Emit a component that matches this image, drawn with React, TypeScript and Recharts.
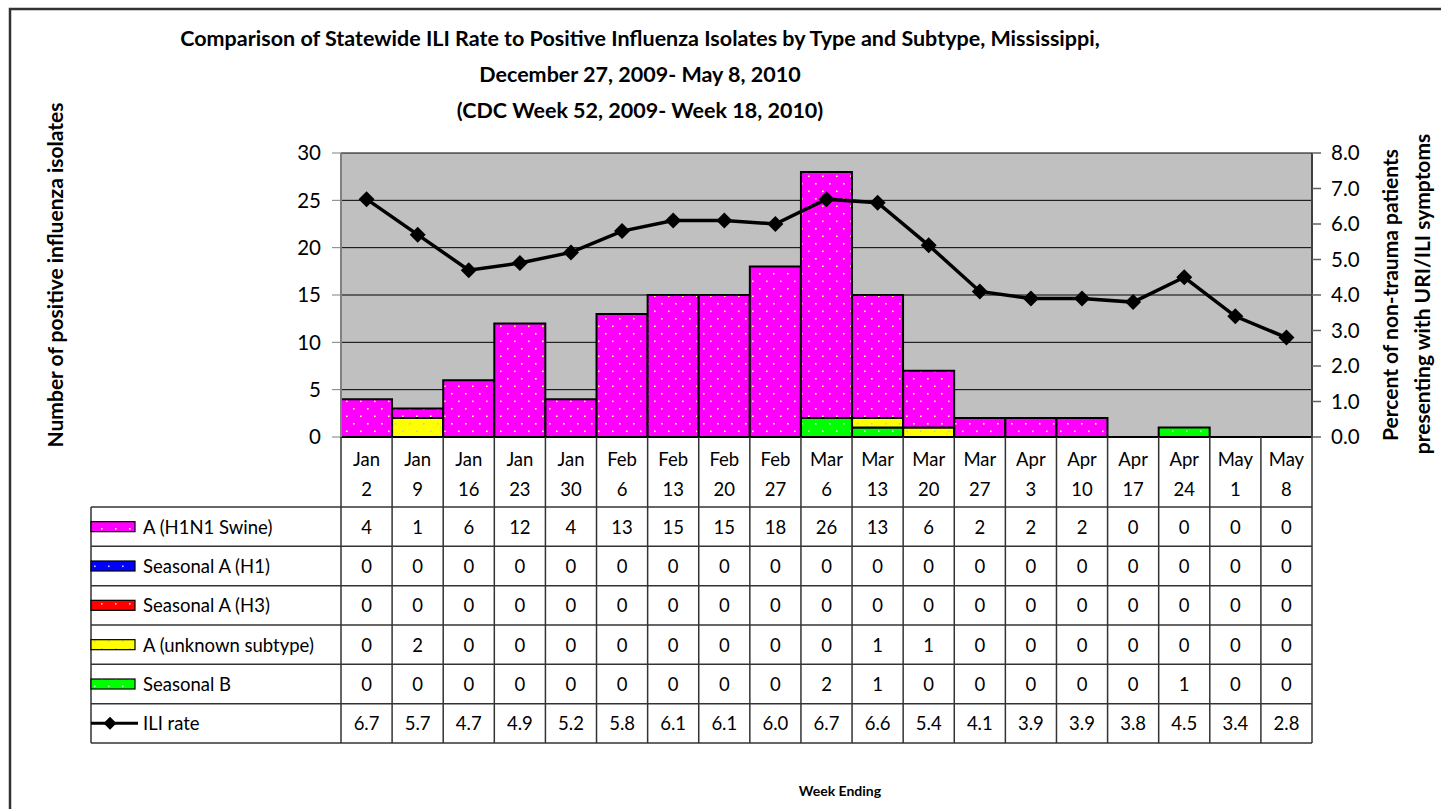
import React from 'react';
import { ComposedChart, Bar, Line, XAxis, YAxis, CartesianGrid } from 'recharts';

const WEEKS = ['Jan 2', 'Jan 9', 'Jan 16', 'Jan 23', 'Jan 30', 'Feb 6', 'Feb 13', 'Feb 20', 'Feb 27', 'Mar 6',
  'Mar 13', 'Mar 20', 'Mar 27', 'Apr 3', 'Apr 10', 'Apr 17', 'Apr 24', 'May 1', 'May 8'];
const SWINE = [4, 1, 6, 12, 4, 13, 15, 15, 18, 26, 13, 6, 2, 2, 2, 0, 0, 0, 0];
const SEASONAL_H1 = [0, 0, 0, 0, 0, 0, 0, 0, 0, 0, 0, 0, 0, 0, 0, 0, 0, 0, 0];
const SEASONAL_H3 = [0, 0, 0, 0, 0, 0, 0, 0, 0, 0, 0, 0, 0, 0, 0, 0, 0, 0, 0];
const UNKNOWN = [0, 2, 0, 0, 0, 0, 0, 0, 0, 0, 1, 1, 0, 0, 0, 0, 0, 0, 0];
const SEASONAL_B = [0, 0, 0, 0, 0, 0, 0, 0, 0, 2, 1, 0, 0, 0, 0, 0, 1, 0, 0];
const ILI_RATE = [6.7, 5.7, 4.7, 4.9, 5.2, 5.8, 6.1, 6.1, 6.0, 6.7, 6.6, 5.4, 4.1, 3.9, 3.9, 3.8, 4.5, 3.4, 2.8];
const COUNT_TICKS = [0, 5, 10, 15, 20, 25, 30];
const RATE_TICKS = [0, 1, 2, 3, 4, 5, 6, 7, 8];

// bar series in table order (top row first)
const SERIES = [
  { key: 'swine', name: 'A (H1N1 Swine)', color: '#ff00ff', dot: '#ffff99', values: SWINE },
  { key: 'h1', name: 'Seasonal A (H1)', color: '#0000ff', dot: '#ccccff', values: SEASONAL_H1 },
  { key: 'h3', name: 'Seasonal A (H3)', color: '#ff0000', dot: '#ffcccc', values: SEASONAL_H3 },
  { key: 'unknown', name: 'A (unknown subtype)', color: '#ffff00', dot: '#cccc99', values: UNKNOWN },
  { key: 'b', name: 'Seasonal B', color: '#00ff00', dot: '#ccffcc', values: SEASONAL_B },
];

const data = WEEKS.map((week, i) => ({
  week,
  swine: SWINE[i],
  h1: SEASONAL_H1[i],
  h3: SEASONAL_H3[i],
  unknown: UNKNOWN[i],
  b: SEASONAL_B[i],
  ili: ILI_RATE[i],
}));

// layout
const W = 1441;
const H = 809;
const PLOT_LEFT = 341;
const PLOT_RIGHT = 1312;
const PLOT_TOP = 153;
const PLOT_BOTTOM = 437;
const TABLE_BOTTOM = 743;
const HEADER_BOTTOM = 507;
const ROW_H = (TABLE_BOTTOM - HEADER_BOTTOM) / 6;
const LEGEND_LEFT = 91;
const COL_W = (PLOT_RIGHT - PLOT_LEFT) / WEEKS.length;
const AXIS_W = 60;
const FONT = 'Lato, "Open Sans", sans-serif';
const TABLE_FS = 18.5;

const rowCenter = (i: number) => HEADER_BOTTOM + ROW_H * i + ROW_H / 2;
const diamond = (cx: number, cy: number, r: number) =>
  `M${cx},${cy - r}L${cx + r},${cy}L${cx},${cy + r}L${cx - r},${cy}Z`;

const LegendColumn = () => (
  <g>
    {[0, 1, 2, 3, 4, 5, 6].map((i) => (
      <line key={`h${i}`} x1={LEGEND_LEFT} x2={PLOT_RIGHT} y1={HEADER_BOTTOM + ROW_H * i} y2={HEADER_BOTTOM + ROW_H * i}
        stroke="#333" strokeWidth={1.5} />
    ))}
    <line x1={LEGEND_LEFT} x2={LEGEND_LEFT} y1={HEADER_BOTTOM} y2={TABLE_BOTTOM} stroke="#333" strokeWidth={1.5} />
    {SERIES.map((s, i) => (
      <g key={s.key}>
        <rect x={LEGEND_LEFT} y={rowCenter(i) - 5} width={44} height={10} fill={`url(#pat-${s.key})`}
          stroke="#000" strokeWidth={1.2} />
        <text x={143} y={rowCenter(i)} dominantBaseline="central" fontSize={TABLE_FS} fill="#000">{s.name}</text>
      </g>
    ))}
    <line x1={LEGEND_LEFT} x2={138} y1={rowCenter(5)} y2={rowCenter(5)} stroke="#000" strokeWidth={3} />
    <path d={diamond(110, rowCenter(5), 6.5)} fill="#000" />
    <text x={143} y={rowCenter(5)} dominantBaseline="central" fontSize={TABLE_FS} fill="#000">ILI rate</text>
  </g>
);

const TableTick = (props: any) => {
  const { x, index, payload } = props;
  const [mon, day] = String(payload.value).split(' ');
  const left = x - COL_W / 2;
  const right = x + COL_W / 2;
  return (
    <g>
      {index === 0 && <LegendColumn />}
      {index === 0 && (
        <line x1={left} x2={left} y1={PLOT_BOTTOM} y2={TABLE_BOTTOM} stroke="#333" strokeWidth={1.5} />
      )}
      <line x1={right} x2={right} y1={PLOT_BOTTOM} y2={TABLE_BOTTOM} stroke="#333" strokeWidth={1.5} />
      <text x={x} y={459} textAnchor="middle" dominantBaseline="central" fontSize={TABLE_FS} fill="#000">{mon}</text>
      <text x={x} y={489} textAnchor="middle" dominantBaseline="central" fontSize={TABLE_FS} fill="#000">{day}</text>
      {SERIES.map((s, i) => (
        <text key={s.key} x={x} y={rowCenter(i)} textAnchor="middle" dominantBaseline="central" fontSize={TABLE_FS}
          fill="#000">{s.values[index]}</text>
      ))}
      <text x={x} y={rowCenter(5)} textAnchor="middle" dominantBaseline="central" fontSize={TABLE_FS} fill="#000">
        {ILI_RATE[index].toFixed(1)}
      </text>
    </g>
  );
};

const DiamondDot = (props: any) => {
  const { cx, cy, index } = props;
  return <path key={`d-${index}`} d={diamond(cx, cy, 8)} fill="#000" />;
};

const App: React.FC = () => {
  // bars stack from the bottom: B, unknown, H3, H1, swine
  const stackOrder = [...SERIES].reverse();
  return (
    <div style={{ position: 'absolute', left: 0, top: 0, width: W, height: H, background: '#fff', fontFamily: FONT }}>
      <ComposedChart
        width={W}
        height={H}
        data={data}
        barCategoryGap={0}
        margin={{ top: PLOT_TOP, left: PLOT_LEFT - AXIS_W, right: W - PLOT_RIGHT - AXIS_W, bottom: H - TABLE_BOTTOM }}
      >
        <defs>
          {SERIES.map((s) => (
            <pattern key={s.key} id={`pat-${s.key}`} width={14} height={15} patternUnits="userSpaceOnUse">
              <rect width={14} height={15} fill={s.color} />
              <rect x={3} y={3} width={1.6} height={1.6} fill={s.dot} />
              <rect x={10} y={10.5} width={1.6} height={1.6} fill={s.dot} />
            </pattern>
          ))}
        </defs>
        <CartesianGrid yAxisId="left" vertical={false} stroke="#000" strokeWidth={1} fill="#c0c0c0" />
        <XAxis
          dataKey="week"
          height={TABLE_BOTTOM - PLOT_BOTTOM}
          interval={0}
          tickLine={false}
          tickSize={0}
          axisLine={{ stroke: '#000', strokeWidth: 2 }}
          tick={(p: any) => <TableTick {...p} />}
        />
        <YAxis
          yAxisId="left"
          width={AXIS_W}
          domain={[0, 30]}
          ticks={COUNT_TICKS}
          tickSize={9}
          tickMargin={11}
          axisLine={{ stroke: '#808080', strokeWidth: 2 }}
          tickLine={{ stroke: '#808080' }}
          tick={{ fill: '#000', fontSize: 20.5 }}
        />
        <YAxis
          yAxisId="right"
          orientation="right"
          width={AXIS_W}
          domain={[0, 8]}
          ticks={RATE_TICKS}
          tickSize={9}
          tickMargin={10}
          axisLine={{ stroke: '#404040', strokeWidth: 2 }}
          tickLine={{ stroke: '#606060', strokeWidth: 1.5 }}
          tick={{ fill: '#000', fontSize: 20.5 }}
          tickFormatter={(v: number) => v.toFixed(1)}
        />
        {stackOrder.map((s) => (
          <Bar key={s.key} yAxisId="left" dataKey={s.key} name={s.name} stackId="isolates" fill={`url(#pat-${s.key})`}
            stroke="#000" strokeWidth={2} isAnimationActive={false} />
        ))}
        <Line yAxisId="right" dataKey="ili" name="ILI rate" stroke="#000" strokeWidth={3.5}
          dot={(p: any) => <DiamondDot {...p} />} activeDot={false} isAnimationActive={false} />
      </ComposedChart>
      <svg width={W} height={H} style={{ position: 'absolute', left: 0, top: 0, pointerEvents: 'none' }}>
        <path d={`M10,${H}L10,9L${W},9`} fill="none" stroke="#333" strokeWidth={2.5} />
        <g fontWeight="bold" fill="#000" textAnchor="middle" fontSize={21.5}>
          <text x={640} y={38} dominantBaseline="central">
            Comparison of Statewide ILI Rate to Positive Influenza Isolates by Type and Subtype, Mississippi,
          </text>
          <text x={640} y={74} dominantBaseline="central">December 27, 2009- May 8, 2010</text>
          <text x={640} y={110} dominantBaseline="central">(CDC Week 52, 2009- Week 18, 2010)</text>
        </g>
        <g fontWeight="bold" fill="#000" textAnchor="middle" fontSize={21}>
          <text x={54} y={275} dominantBaseline="central" transform="rotate(-90 54 275)">
            Number of positive influenza isolates
          </text>
          <text x={1389} y={295} dominantBaseline="central" transform="rotate(-90 1389 295)">
            Percent of non-trauma patients
          </text>
          <text x={1421} y={294} dominantBaseline="central" transform="rotate(-90 1421 294)">
            presenting with URI/ILI symptoms
          </text>
        </g>
        <text x={840} y={790} dominantBaseline="central" textAnchor="middle" fontWeight="bold" fontSize={14}
          fill="#000">Week Ending</text>
      </svg>
    </div>
  );
};

export default App;
